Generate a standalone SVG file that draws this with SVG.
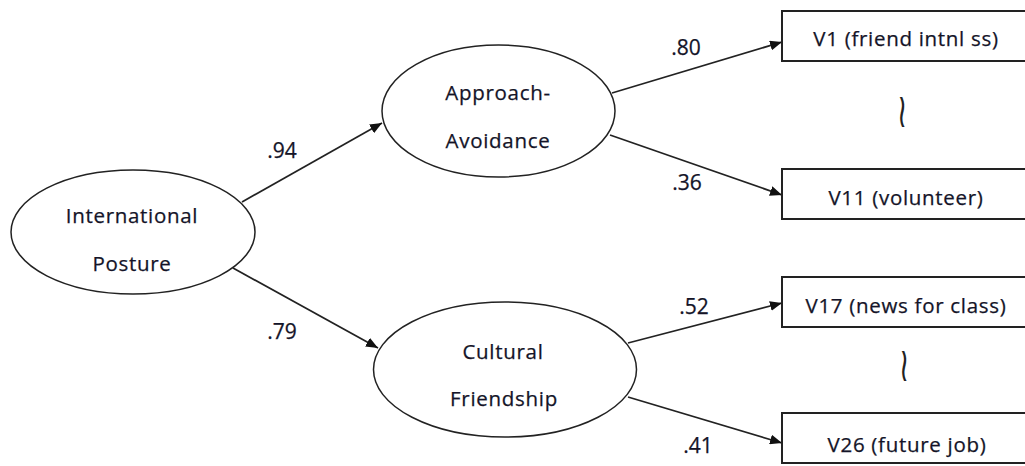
<svg xmlns="http://www.w3.org/2000/svg" width="1025" height="466" viewBox="0 0 1025 466">
<style>
.node{fill:#fff;stroke:#222;stroke-width:1.5}
.box{fill:#fff;stroke:#222;stroke-width:2}
.t{font-family:"Open Sans","Noto Sans",sans-serif;font-size:20.5px;fill:#141428;text-anchor:middle;letter-spacing:0.7px;stroke:#141428;stroke-width:0.25}
.n{font-family:"Open Sans","Noto Sans",sans-serif;font-size:21px;fill:#141428;text-anchor:middle;stroke:#141428;stroke-width:0.25}
.c{stroke:#222;stroke-width:1.7;fill:none;marker-end:url(#ah)}
.sq{font-family:"DejaVu Sans",sans-serif;font-weight:200;font-size:34px;fill:#222;text-anchor:middle}
</style>
<defs>
<marker id="ah" viewBox="0 0 12 10" refX="12" refY="5" markerWidth="12" markerHeight="10" orient="auto" markerUnits="userSpaceOnUse">
<path d="M0,0 L12,5 L0,10 z" fill="#111"/>
</marker>
</defs>
<rect width="1025" height="466" fill="#fff"/>
<g id="connectors">
<line class="c" x1="242" y1="202" x2="382" y2="123"/>
<line class="c" x1="233" y1="268" x2="378" y2="348"/>
<line class="c" x1="612" y1="93" x2="782" y2="42"/>
<line class="c" x1="610" y1="135" x2="782" y2="195"/>
<line class="c" x1="628" y1="343" x2="782" y2="303"/>
<line class="c" x1="628" y1="397" x2="782" y2="443"/>
<text class="n" x="282" y="158">.94</text>
<text class="n" x="282" y="339">.79</text>
<text class="n" x="686" y="55">.80</text>
<text class="n" x="687" y="190">.36</text>
<text class="n" x="694" y="314">.52</text>
<text class="n" x="698" y="453">.41</text>
</g>
<g id="international-posture">
<ellipse class="node" cx="133" cy="232" rx="122" ry="62"/>
<text class="t" x="132" y="223">International</text>
<text class="t" x="132" y="271">Posture</text>
</g>
<g id="approach-avoidance">
<ellipse class="node" cx="498.5" cy="111" rx="116.5" ry="66"/>
<text class="t" x="498" y="100">Approach-</text>
<text class="t" x="498" y="148">Avoidance</text>
</g>
<g id="cultural-friendship">
<ellipse class="node" cx="505" cy="369.5" rx="131.5" ry="67.5"/>
<text class="t" x="503" y="359">Cultural</text>
<text class="t" x="504" y="406">Friendship</text>
</g>
<g id="v1">
<rect class="box" x="782" y="11" width="260" height="50"/>
<text class="t" x="906" y="46">V1 (friend intnl ss)</text>
</g>
<g id="v11">
<rect class="box" x="782" y="169" width="260" height="50"/>
<text class="t" x="906" y="205">V11 (volunteer)</text>
</g>
<g id="v17">
<rect class="box" x="782" y="277" width="260" height="50"/>
<text class="t" x="906" y="313">V17 (news for class)</text>
</g>
<g id="v26">
<rect class="box" x="782" y="413" width="260" height="50"/>
<text class="t" x="907" y="452">V26 (future job)</text>
</g>
<g id="ellipsis-marks">
<text class="sq" transform="translate(902,127) scale(0.8,1.4)">≀</text>
<text class="sq" transform="translate(904,381) scale(0.8,1.4)">≀</text>
</g>
</svg>
